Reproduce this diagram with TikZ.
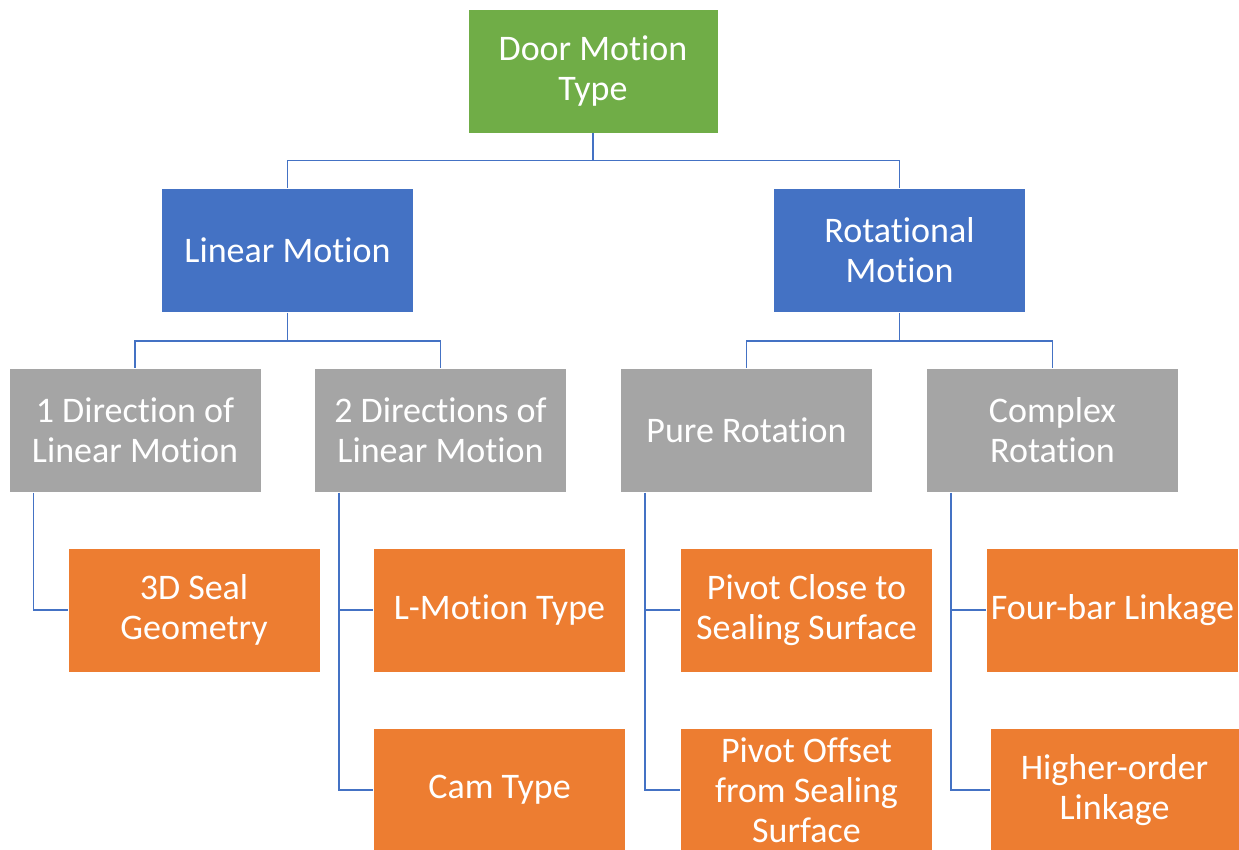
\documentclass[tikz,border=0pt]{standalone}
\usepackage{fontspec}
\setmainfont{Carlito}[RawFeature={-liga;-clig;-dlig}]
\definecolor{cgreen}{HTML}{70AD47}
\definecolor{cblue}{HTML}{4472C4}
\definecolor{cgray}{HTML}{A5A5A5}
\definecolor{corange}{HTML}{ED7D31}
\definecolor{cline}{HTML}{4472C4}
\begin{document}
\begin{tikzpicture}[x=1pt,y=1pt,
  box/.style={draw=white, line width=0.8pt, text=white, minimum width=252pt, minimum height=124pt,
    inner sep=0pt, align=center, font=\fontsize{36}{40}\selectfont},
  gbox/.style={box, fill=cgreen, minimum width=250pt},
  bbox/.style={box, fill=cblue},
  ybox/.style={box, fill=cgray},
  obox/.style={box, fill=corange},
  conn/.style={draw=cline, line width=1.3pt}]
\useasboundingbox (0,0) rectangle (1239,-850);
\clip (0,0) rectangle (1239,-850);
\node[gbox] (root) at (593,-71) {Door Motion\\Type};
\node[bbox] (lin) at (287.5,-250.5) {Linear Motion};
\node[bbox] (rot) at (899.5,-250.5) {Rotational\\Motion};
\node[ybox] (d1) at (135,-430.5) {1 Direction of\\Linear Motion};
\node[ybox] (d2) at (440.5,-430.5) {2 Directions of\\Linear Motion};
\node[ybox] (pr) at (746.5,-430.5) {Pure Rotation};
\node[ybox] (cr) at (1052.5,-430.5) {Complex\\Rotation};
\node[obox] (seal) at (194,-610) {3D Seal\\Geometry};
\node[obox] (lm) at (499.5,-610) {L-Motion Type};
\node[obox] (cam) at (499.5,-790) {Cam Type};
\node[obox] (pc) at (806.5,-610) {Pivot Close to\\Sealing Surface};
\node[obox] (po) at (806.5,-790) {Pivot Offset\\from Sealing\\Surface};
\node[obox] (fb) at (1112.5,-610) {Four-bar Linkage};
\node[obox, minimum width=249pt] (ho) at (1114.5,-790) {Higher-order\\Linkage};
\draw[conn] (root.south) -- ++(0,-27) -| (lin.north);
\draw[conn] (root.south) -- ++(0,-27) -| (rot.north);
\draw[conn] (lin.south) -- ++(0,-28) -| (d1.north);
\draw[conn] (lin.south) -- ++(0,-28) -| (d2.north);
\draw[conn] (rot.south) -- ++(0,-28) -| (pr.north);
\draw[conn] (rot.south) -- ++(0,-28) -| (cr.north);
\draw[conn] ([xshift=25pt]d1.south west) |- (seal.west);
\draw[conn] ([xshift=25pt]d2.south west) |- (lm.west);
\draw[conn] ([xshift=25pt]d2.south west) |- (cam.west);
\draw[conn] ([xshift=25pt]pr.south west) |- (pc.west);
\draw[conn] ([xshift=25pt]pr.south west) |- (po.west);
\draw[conn] ([xshift=25pt]cr.south west) |- (fb.west);
\draw[conn] ([xshift=25pt]cr.south west) |- (ho.west);
\end{tikzpicture}
\end{document}
